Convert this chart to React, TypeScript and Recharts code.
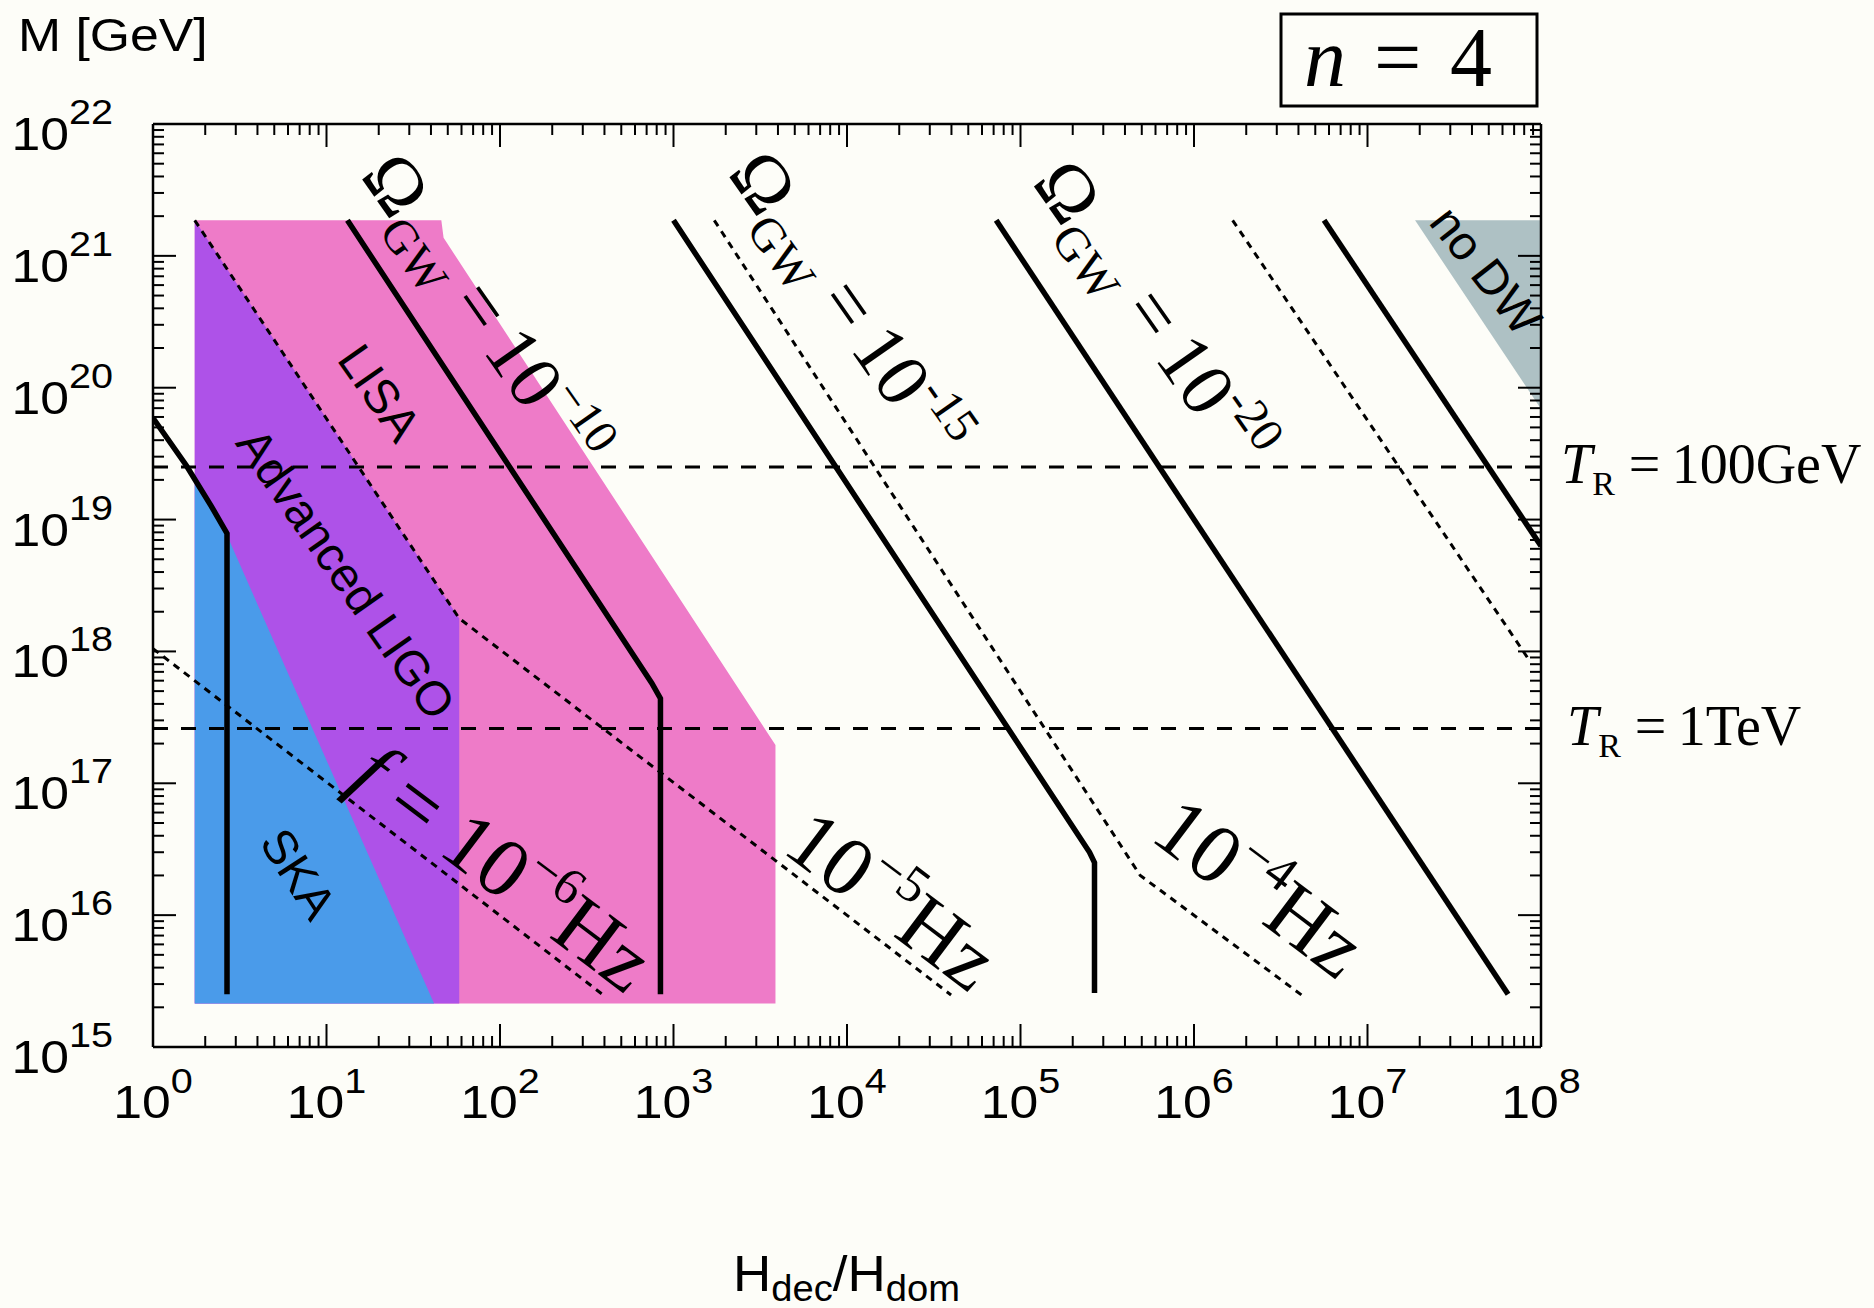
import React from "react";
import { Area, ComposedChart, Line, ReferenceDot, ReferenceLine, XAxis, YAxis } from "recharts";

const W = 1874;
const H = 1308;
const BG = "#fdfdf8";
const SANS = "'Liberation Sans', Arial, Helvetica, sans-serif";
const SERIF = "'Liberation Serif', 'Times New Roman', Times, serif";

// axis decades (H_dec/H_dom and M [GeV])
const xDecades = [1, 10, 100, 1e3, 1e4, 1e5, 1e6, 1e7, 1e8];
const yDecades = [1e15, 1e16, 1e17, 1e18, 1e19, 1e20, 1e21, 1e22];
const minorSteps = [2, 3, 4, 5, 6, 7, 8, 9];

// detector reach regions, r = [lower M, upper M]
const lisaRegion = [
  { x: 1.74, r: [2.14e15, 1.86e21] },
  { x: 45.9, r: [2.14e15, 1.86e21] },
  { x: 47.3, r: [2.14e15, 1.37e21] },
  { x: 3870, r: [2.14e15, 1.95e17] },
];
const ligoRegion = [
  { x: 1.74, r: [2.14e15, 1.86e21] },
  { x: 58.2, r: [2.14e15, 1.78e18] },
];
const skaRegion = [
  { x: 1.74, r: [2.14e15, 1.86e19] },
  { x: 2.17, r: [2.14e15, 1.2e19] },
  { x: 2.67, r: [2.14e15, 7.59e18] },
  { x: 41.7, r: [2.14e15, 2.14e15] },
];
const noDwRegion = [
  { x: 1.88e7, r: [1.86e21, 1.86e21] },
  { x: 1e8, r: [6.9e19, 1.86e21] },
];

// Omega_GW = const contours (solid)
const omegaEdge = [
  { x: 1, y: 5.89e19 },
  { x: 1.556, y: 2.57e19 },
  { x: 2.17, y: 1.26e19 },
  { x: 2.67, y: 7.85e18 },
  { x: 2.67, y: 2.51e15 },
];
const omega10 = [
  { x: 13.2, y: 1.86e21 },
  { x: 750, y: 5.75e17 },
  { x: 841, y: 4.4e17 },
  { x: 841, y: 2.51e15 },
];
const omega15 = [
  { x: 1000, y: 1.86e21 },
  { x: 2.5e5, y: 3.0e16 },
  { x: 2.67e5, y: 2.5e16 },
  { x: 2.67e5, y: 2.57e15 },
];
const omega20 = [
  { x: 7.24e4, y: 1.86e21 },
  { x: 6.46e7, y: 2.51e15 },
];
const omega25 = [
  { x: 5.62e6, y: 1.86e21 },
  { x: 1e8, y: 6.31e18 },
];

// f = const contours (dotted)
const freq6 = [
  { x: 1, y: 1.05e18 },
  { x: 389, y: 2.51e15 },
];
const freq5 = [
  { x: 1.74, y: 1.86e21 },
  { x: 58.2, y: 1.78e18 },
  { x: 3.98e4, y: 2.48e15 },
];
const freq4 = [
  { x: 1718, y: 1.86e21 },
  { x: 4.9e5, y: 2.0e16 },
  { x: 4.17e6, y: 2.48e15 },
];
const freq3 = [
  { x: 1.67e6, y: 1.86e21 },
  { x: 8.7e7, y: 8.3e17 },
];

// reheating temperatures
const tempLines = [
  { y: 2.5e19, text: "100GeV", dx: 20 },
  { y: 2.6e17, text: "1TeV", dx: 26 },
];

// annotations
const omegaLabels = [
  { x: 80.5, y: 3.8e20, exp: "\u221210" },
  { x: 1.01e4, y: 4.27e20, exp: "-15" },
  { x: 5.75e5, y: 3.63e20, exp: "-20" },
];
const freqLabels = [
  { x: 104, y: 2.3e16, exp: "\u22126", withF: true },
  { x: 1.82e4, y: 1.3e16, exp: "\u22125", withF: false },
  { x: 2.4e6, y: 1.62e16, exp: "\u22124", withF: false },
];
const regionLabels = [
  { x: 20.3, y: 9.2e19, text: "LISA", angle: 55 },
  { x: 13.0, y: 3.9e18, text: "Advanced LIGO", angle: 55 },
  { x: 6.9, y: 2.07e16, text: "SKA", angle: 57 },
  { x: 4.84e7, y: 7.8e20, text: "no DW", angle: 52 },
];

const PINK = "#ee7bc8";
const PURPLE = "#ae52e8";
const BLUE = "#4a9bea";
const GREY = "#aec1c4";

const withMinor = (decades: number[]) =>
  decades.flatMap((d, i) => (i === decades.length - 1 ? [d] : [d, ...minorSteps.map((m) => d * m)]));
const xTicks = withMinor(xDecades);
const yTicks = withMinor(yDecades);

const TICK_MAJOR = 23;
const TICK_MINOR = 11;
const AXIS = { stroke: "#000", strokeWidth: 2.5 };

const expOf = (v: number) => Math.round(Math.log10(v));
const isDecade = (v: number) => Math.abs(Math.log10(v) - expOf(v)) < 1e-6;

function BottomTick(p: any) {
  const v = p.payload.value;
  const major = isDecade(v);
  return (
    <g>
      <line x1={p.x} x2={p.x} y1={p.y} y2={p.y - (major ? TICK_MAJOR : TICK_MINOR)} stroke="#000" strokeWidth={2} />
      {major && (
        <g transform={`translate(${p.x} ${p.y + 71}) scale(1.1 1)`}>
          <text x={0} y={0} textAnchor="middle" fontFamily={SANS} fontSize={47}>
            10<tspan dy={-25} fontSize={36}>{expOf(v)}</tspan>
          </text>
        </g>
      )}
    </g>
  );
}

function TopTick(p: any) {
  const major = isDecade(p.payload.value);
  return <line x1={p.x} x2={p.x} y1={p.y} y2={p.y + (major ? TICK_MAJOR : TICK_MINOR)} stroke="#000" strokeWidth={2} />;
}

function LeftTick(p: any) {
  const v = p.payload.value;
  const major = isDecade(v);
  return (
    <g>
      <line x1={p.x} x2={p.x + (major ? TICK_MAJOR : TICK_MINOR)} y1={p.y} y2={p.y} stroke="#000" strokeWidth={2} />
      {major && (
        <g transform={`translate(${p.x - 40} ${p.y + 26}) scale(1.1 1)`}>
          <text x={0} y={0} textAnchor="end" fontFamily={SANS} fontSize={47}>
            10<tspan dy={-26} fontSize={36}>{expOf(v)}</tspan>
          </text>
        </g>
      )}
    </g>
  );
}

function RightTick(p: any) {
  const major = isDecade(p.payload.value);
  return <line x1={p.x} x2={p.x - (major ? TICK_MAJOR : TICK_MINOR)} y1={p.y} y2={p.y} stroke="#000" strokeWidth={2} />;
}

function OmegaLabel({ cx, cy, exp }: any) {
  return (
    <text x={cx} y={cy + 24} textAnchor="middle" transform={`rotate(55 ${cx} ${cy})`} fontFamily={SERIF} fontSize={76}>
      {"\u03a9"}
      <tspan fontSize={48} dy={17}>GW</tspan>
      <tspan dy={-17}>{"\u00a0=\u200910"}</tspan>
      <tspan fontSize={48} dy={-32}>{exp}</tspan>
    </text>
  );
}

function FreqLabel({ cx, cy, exp, withF }: any) {
  return (
    <text x={cx} y={cy + 28} textAnchor="middle" transform={`rotate(37 ${cx} ${cy})`} fontFamily={SERIF} fontSize={84}>
      {withF && <tspan fontStyle="italic">f</tspan>}
      {withF && "\u00a0=\u00a0"}
      10
      <tspan fontSize={52} dy={-36}>{exp}</tspan>
      <tspan dy={36}>Hz</tspan>
    </text>
  );
}

function RegionLabel({ cx, cy, text, angle }: any) {
  return (
    <text x={cx} y={cy + 17} textAnchor="middle" transform={`rotate(${angle} ${cx} ${cy})`} fontFamily={SANS} fontSize={48}>
      {text}
    </text>
  );
}

function TempLabel({ cx, cy, text, dx }: any) {
  return (
    <text x={cx + dx} y={cy + 16} fontFamily={SERIF} fontSize={56}>
      <tspan fontStyle="italic">T</tspan>
      <tspan fontSize={34} dy={12}>R</tspan>
      <tspan dy={-12}>{"\u00a0=\u2009" + text}</tspan>
    </text>
  );
}

function Overlay() {
  return (
    <svg width={W} height={H} style={{ position: "absolute", left: 0, top: 0, pointerEvents: "none" }}>
      <g transform="translate(18 51) scale(1.1 1)">
        <text x={0} y={0} fontFamily={SANS} fontSize={47}>M [GeV]</text>
      </g>
      <g transform="translate(733 1291) scale(1.06 1)">
        <text x={0} y={0} fontFamily={SANS} fontSize={50}>
          H<tspan fontSize={36} dy={10}>dec</tspan>
          <tspan dy={-10}>/H</tspan>
          <tspan fontSize={36} dy={10}>dom</tspan>
        </text>
      </g>
      <rect x={1281} y={14} width={256} height={92} fill="none" stroke="#000" strokeWidth={3} />
      <text y={86} fontFamily={SERIF} fontSize={84}>
        <tspan x={1304} fontStyle="italic">n</tspan>
        <tspan x={1374}>=</tspan>
        <tspan x={1450}>4</tspan>
      </text>
    </svg>
  );
}

const solid = { stroke: "#000", strokeWidth: 5.5, dot: false, activeDot: false, type: "linear" as const, isAnimationActive: false };
const dotted = { stroke: "#000", strokeWidth: 3, strokeDasharray: "7 6", dot: false, activeDot: false, type: "linear" as const, isAnimationActive: false };

export default function App() {
  return (
    <div style={{ position: "absolute", left: 0, top: 0, width: W, height: H, background: BG }}>
      <ComposedChart width={W} height={H} margin={{ top: 84, right: 293, bottom: 221, left: 113 }}>
        <XAxis dataKey="x" type="number" scale="log" domain={[1, 1e8]} ticks={xTicks} interval={0} allowDataOverflow
          height={40} tickSize={0} tickMargin={0} tickLine={false} axisLine={AXIS} tick={(p: any) => <BottomTick {...p} />} />
        <XAxis xAxisId="top" orientation="top" dataKey="x" type="number" scale="log" domain={[1, 1e8]} ticks={xTicks} interval={0} allowDataOverflow
          height={40} tickSize={0} tickMargin={0} tickLine={false} axisLine={AXIS} tick={(p: any) => <TopTick {...p} />} />
        <YAxis type="number" scale="log" domain={[1e15, 1e22]} ticks={yTicks} interval={0} allowDataOverflow
          width={40} tickSize={0} tickMargin={0} tickLine={false} axisLine={AXIS} tick={(p: any) => <LeftTick {...p} />} />
        <YAxis yAxisId="right" orientation="right" type="number" scale="log" domain={[1e15, 1e22]} ticks={yTicks} interval={0} allowDataOverflow
          width={40} tickSize={0} tickMargin={0} tickLine={false} axisLine={AXIS} tick={(p: any) => <RightTick {...p} />} />

        <Area data={lisaRegion} dataKey="r" type="linear" stroke="none" fill={PINK} fillOpacity={1} isAnimationActive={false} />
        <Area data={ligoRegion} dataKey="r" type="linear" stroke="none" fill={PURPLE} fillOpacity={1} isAnimationActive={false} />
        <Area data={skaRegion} dataKey="r" type="linear" stroke="none" fill={BLUE} fillOpacity={1} isAnimationActive={false} />
        <Area data={noDwRegion} dataKey="r" type="linear" stroke="none" fill={GREY} fillOpacity={1} isAnimationActive={false} />

        {tempLines.map((t) => (
          <ReferenceLine key={t.text} y={t.y} stroke="#000" strokeWidth={3} strokeDasharray="15 13" />
        ))}

        <Line data={freq6} dataKey="y" {...dotted} />
        <Line data={freq5} dataKey="y" {...dotted} />
        <Line data={freq4} dataKey="y" {...dotted} />
        <Line data={freq3} dataKey="y" {...dotted} />

        <Line data={omegaEdge} dataKey="y" {...solid} />
        <Line data={omega10} dataKey="y" {...solid} />
        <Line data={omega15} dataKey="y" {...solid} />
        <Line data={omega20} dataKey="y" {...solid} />
        <Line data={omega25} dataKey="y" {...solid} />

        {omegaLabels.map((l) => (
          <ReferenceDot key={l.exp} x={l.x} y={l.y} r={0} ifOverflow="visible" shape={(p: any) => <OmegaLabel cx={p.cx} cy={p.cy} exp={l.exp} />} />
        ))}
        {freqLabels.map((l) => (
          <ReferenceDot key={l.exp} x={l.x} y={l.y} r={0} ifOverflow="visible" shape={(p: any) => <FreqLabel cx={p.cx} cy={p.cy} exp={l.exp} withF={l.withF} />} />
        ))}
        {regionLabels.map((l) => (
          <ReferenceDot key={l.text} x={l.x} y={l.y} r={0} ifOverflow="visible" shape={(p: any) => <RegionLabel cx={p.cx} cy={p.cy} text={l.text} angle={l.angle} />} />
        ))}
        {tempLines.map((t) => (
          <ReferenceDot key={"t" + t.text} x={1e8} y={t.y} r={0} ifOverflow="visible" shape={(p: any) => <TempLabel cx={p.cx} cy={p.cy} text={t.text} dx={t.dx} />} />
        ))}
      </ComposedChart>
      <Overlay />
    </div>
  );
}
